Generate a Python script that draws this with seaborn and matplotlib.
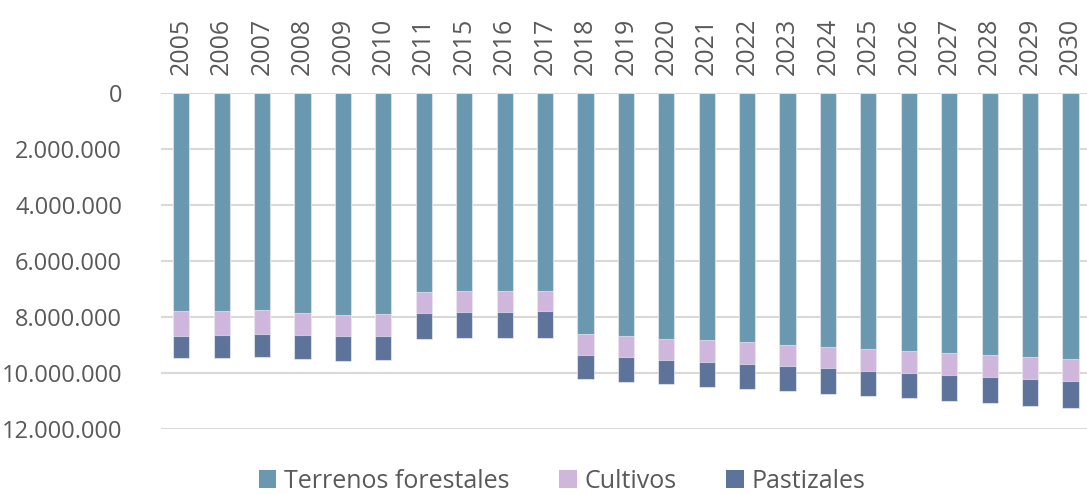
import numpy as np
import pandas as pd
import seaborn as sns
import matplotlib
matplotlib.use("Agg")
import matplotlib.pyplot as plt
from matplotlib.patches import Patch

years = ["2005", "2006", "2007", "2008", "2009", "2010", "2011", "2015", "2016", "2017",
         "2018", "2019", "2020", "2021", "2022", "2023", "2024", "2025", "2026", "2027",
         "2028", "2029", "2030"]
terrenos_forestales = [7800000, 7810000, 7760000, 7870000, 7940000, 7900000, 7110000, 7080000,
                       7080000, 7080000, 8630000, 8700000, 8790000, 8840000, 8910000, 9010000,
                       9070000, 9140000, 9220000, 9300000, 9360000, 9440000, 9510000]
cultivos = [890000, 860000, 850000, 800000, 760000, 780000, 770000, 740000, 740000, 730000,
            750000, 750000, 750000, 770000, 770000, 750000, 770000, 790000, 780000, 780000,
            790000, 790000, 800000]
pastizales = [800000, 820000, 830000, 850000, 870000, 880000, 910000, 930000, 940000, 940000,
              860000, 880000, 880000, 890000, 910000, 900000, 910000, 910000, 910000, 940000,
              940000, 960000, 950000]
series_names = ["Terrenos forestales", "Cultivos", "Pastizales"]
colors = ["#6A98B0", "#CFB6DC", "#5E7399"]

sns.set_theme(style="white")
plt.rcParams["font.family"] = ["Open Sans", "DejaVu Sans"]
text_color = "#595959"

df = pd.DataFrame({"year": years, "f": terrenos_forestales, "c": cultivos, "p": pastizales})
df["c1"] = df["f"]
df["c2"] = df["f"] + df["c"]
df["c3"] = df["f"] + df["c"] + df["p"]

fig = plt.figure(figsize=(10.87, 4.95), dpi=100)
ax = fig.add_axes([161 / 1087, 66.3 / 495, (1090.7 - 161) / 1087, (428.7 - 92.7) / 495])

for col, color in zip(["c3", "c2", "c1"], colors[::-1]):
    sns.barplot(data=df, x="year", y=col, color=color, width=0.4, ax=ax,
                saturation=1, edgecolor=(1, 1, 1, 0.5), linewidth=0.8, zorder=3)

ax.set_ylim(12000000, 0)
ax.set_yticks(np.arange(0, 12000001, 2000000))
ax.set_yticklabels([f"{int(v):,}".replace(",", ".") for v in np.arange(0, 12000001, 2000000)])
ax.yaxis.grid(True, color="#D9D9D9", linewidth=1.5, zorder=0)
ax.set_axisbelow(True)
for s in ax.spines.values():
    s.set_visible(False)
ax.xaxis.tick_top()
ax.tick_params(axis="x", labelrotation=90, length=0, pad=13, labelsize=18, colors=text_color)
ax.tick_params(axis="y", length=0, pad=28, labelsize=17, colors=text_color)
ax.set_xlabel("")
ax.set_ylabel("")

handles = [Patch(facecolor=c, edgecolor="none") for c in colors]
fig.legend(handles, series_names, loc="center", bbox_to_anchor=(562 / 1087, 1 - 481 / 495),
           ncol=3, frameon=False, fontsize=18, handlelength=0.7, handleheight=0.7,
           handletextpad=0.3, columnspacing=2.0, labelcolor=text_color)

fig.savefig("out.png", dpi=100)
